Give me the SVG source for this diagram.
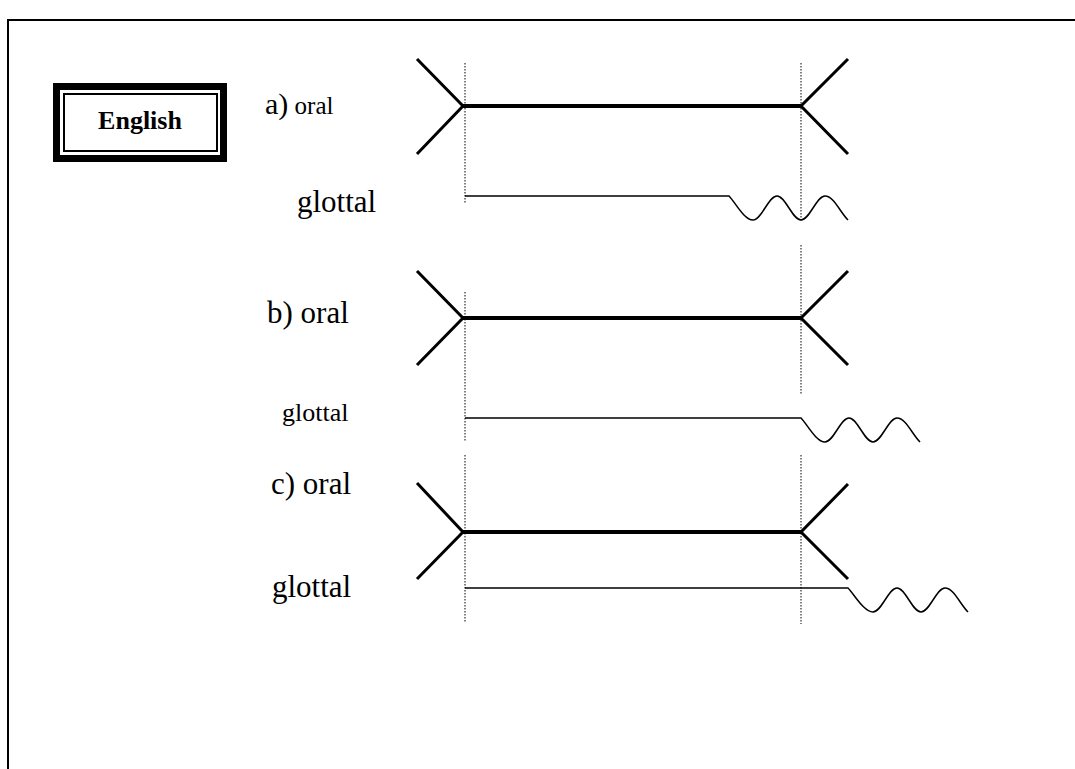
<svg xmlns="http://www.w3.org/2000/svg" width="1075" height="769" viewBox="0 0 1075 769">
<style>
.t{font-family:"Liberation Serif","Times New Roman",serif;fill:#000}
.oral{stroke:#000;stroke-width:4;fill:none;stroke-linecap:butt}
.arm{stroke:#000;stroke-width:3;fill:none;stroke-linecap:butt}
.glot{stroke:#000;stroke-width:1.5;fill:none}
.dot{stroke:#000;stroke-width:1;stroke-dasharray:1.5 1.5;fill:none}
</style>
<rect width="1075" height="769" fill="#fff"/>
<g id="frame">
<path d="M8,780 V20 H1090" fill="none" stroke="#000" stroke-width="2"/>
</g>
<g id="english">
<rect x="56.5" y="86.5" width="167" height="72" fill="#fff" stroke="#000" stroke-width="7"/>
<rect x="64" y="94" width="153" height="57" fill="none" stroke="#000" stroke-width="2"/>
<text class="t" x="140" y="129" font-size="26" font-weight="bold" text-anchor="middle">English</text>
</g>
<g id="labels">
<text class="t" x="265" y="114" font-size="30">a)<tspan font-size="25"> oral</tspan></text>
<text class="t" x="297" y="212" font-size="31">glottal</text>
<text class="t" x="267" y="323" font-size="31">b) oral</text>
<text class="t" x="282" y="421" font-size="26">glottal</text>
<text class="t" x="271" y="494" font-size="31">c) oral</text>
<text class="t" x="272" y="597" font-size="31">glottal</text>
</g>
<g id="row-a">
<path class="arm" d="M417,59 L463,106 L417,154"/>
<path class="arm" d="M848,59 L801,106 L848,154"/>
<path class="oral" d="M463,106 H801"/>
<path class="glot" d="M465,196 H729 C735,202 744,220 753,220 C761.7,220 768.3,196 777,196 C785.7,196 792.3,220 801,220 C809.7,220 816.3,196 825,196 C833.7,196 840,212 848,220"/>
</g>
<g id="row-b">
<path class="arm" d="M417,271 L463,318 L417,365"/>
<path class="arm" d="M848,271 L801,318 L848,365"/>
<path class="oral" d="M463,318 H801"/>
<path class="glot" d="M465,418 H801 C807,424 816,442 825,442 C833.7,442 840.3,418 849,418 C857.7,418 864.3,442 873,442 C881.7,442 888.3,418 897,418 C905.7,418 912,434 920,442"/>
</g>
<g id="row-c">
<path class="arm" d="M417,483 L463,532 L417,579"/>
<path class="arm" d="M848,484 L801,532 L848,579"/>
<path class="oral" d="M463,532 H801"/>
<path class="glot" d="M465,588 H848 C854,594 864,612 873,612 C881.7,612 888.3,588 897,588 C905.7,588 912.3,612 921,612 C929.7,612 936.3,588 945,588 C953.7,588 960,604 968,612"/>
</g>
<g id="connectors">
<path class="dot" d="M465,63 V204"/>
<path class="dot" d="M801,63 V221"/>
<path class="dot" d="M465,292 V442"/>
<path class="dot" d="M801,245 V395"/>
<path class="dot" d="M465,455 V623"/>
<path class="dot" d="M801,455 V624"/>
</g>
</svg>
